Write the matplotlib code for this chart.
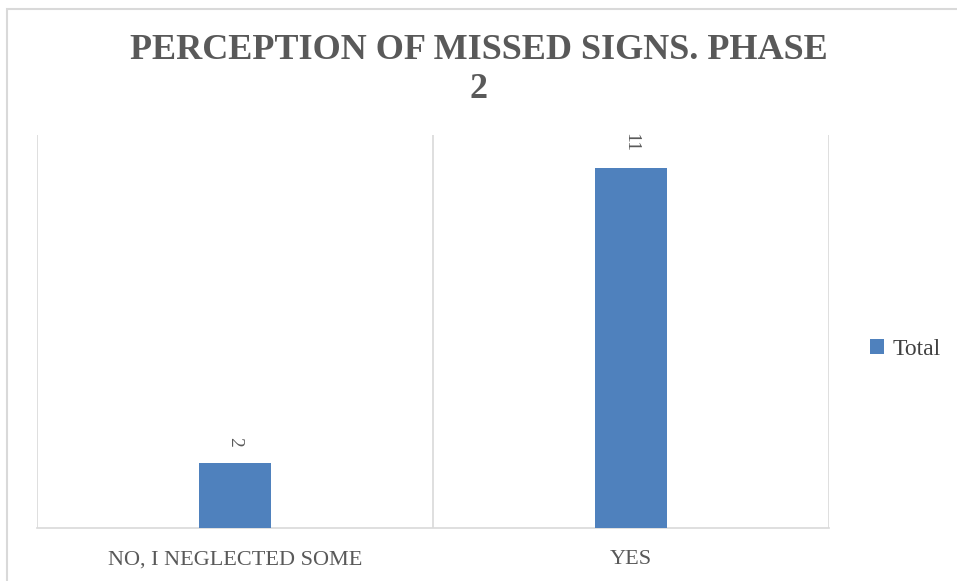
import numpy as np
import matplotlib.pyplot as plt
from matplotlib.patches import Rectangle

categories = ['NO, I NEGLECTED SOME', 'YES']
totals = [2, 11]

bar_color = '#4f81bd'
grid_color = '#d9d9d9'
text_color = '#595959'

plt.rcParams['font.family'] = ['Liberation Serif', 'DejaVu Serif']

fig = plt.figure(figsize=(9.57, 5.81), dpi=100)
ax = fig.add_axes([37/957, 53/581, 792/957, 393/581])

x = np.arange(len(categories))
bars = ax.bar(x, totals, width=0.18, color=bar_color, label='Total', zorder=3)

ax.set_xlim(-0.5, len(categories) - 0.5)
ax.set_ylim(0, 12)

# vertical separators between categories
for b in np.arange(-0.5, len(categories), 1.0):
    ax.axvline(b, color=grid_color, lw=1.2, zorder=1)

for s in ['top', 'left', 'right']:
    ax.spines[s].set_visible(False)
ax.spines['bottom'].set_color(grid_color)
ax.spines['bottom'].set_linewidth(1.2)
ax.set_yticks([])
ax.set_xticks(x)
ax.set_xticklabels(categories, fontsize=16, color=text_color)
ax.tick_params(axis='x', length=0, pad=16)

for xi, v in zip(x, totals):
    ax.annotate(str(v), (xi, v), xytext=(0, 11), textcoords='offset points',
                ha='center', va='bottom', rotation=270, fontsize=14, color=text_color)

fig.text(0.5, 1 - 70/581, 'PERCEPTION OF MISSED SIGNS. PHASE\n2', ha='center', va='center',
         fontsize=26, fontweight='bold', color=text_color, linespacing=1.25)

ax.legend(loc='center left', bbox_to_anchor=(1.025, 0.455), frameon=False, fontsize=17,
          handlelength=0.6, handleheight=0.6, handletextpad=0.35, labelcolor='#404040')

# outer chart border (extends past the right and bottom edges)
fig.patches.append(Rectangle((7/957, -0.05), 1.1, 1 - 9/581 + 0.05, transform=fig.transFigure,
                             fill=False, edgecolor=grid_color, lw=1.5))

fig.savefig('out.png', dpi=100)
